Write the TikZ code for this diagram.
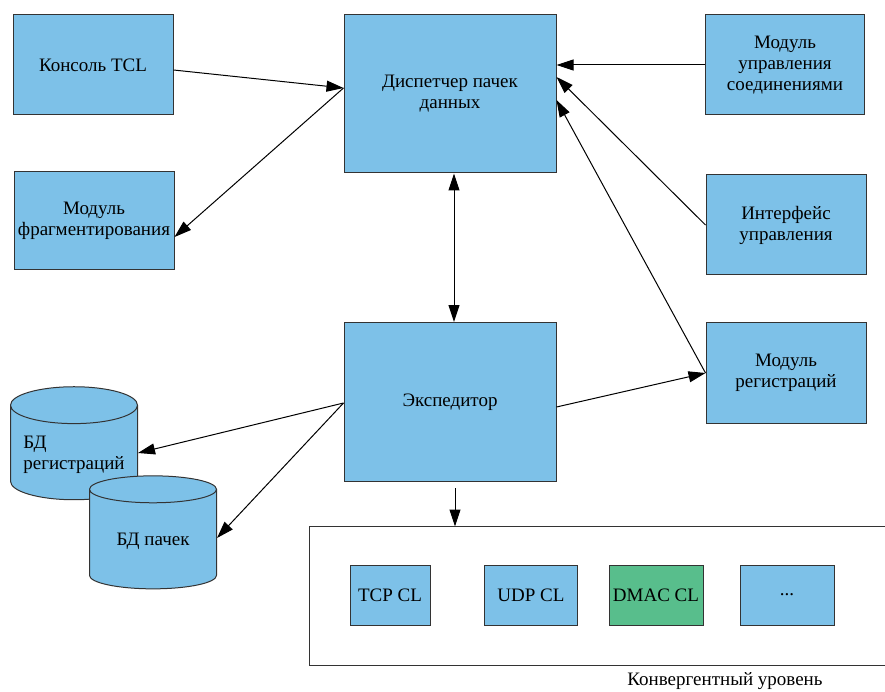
\documentclass[tikz,border=0pt]{standalone}
\usepackage{fontspec}
\setmainfont{Liberation Serif}
\usetikzlibrary{shapes.geometric, arrows.meta, positioning}
\definecolor{boxblue}{RGB}{125,193,232}
\definecolor{boxgreen}{RGB}{88,190,140}

\begin{document}
\begin{tikzpicture}[x=1pt, y=-1pt, font=\fontsize{19}{21}\selectfont, >={Triangle[length=17pt,width=11pt]}, line width=1pt]
    \tikzstyle{block}=[rectangle, draw=black!80, fill=boxblue, align=center, inner sep=2pt, minimum width=160pt, minimum height=100pt]
    \tikzstyle{big}=[block, minimum width=212pt, minimum height=158pt]
    \tikzstyle{cl}=[block, minimum width=93pt, minimum height=60pt]
    \tikzstyle{db}=[cylinder, shape border rotate=90, draw=black!80, fill=boxblue, shape aspect=0.35, align=left, minimum width=127pt, minimum height=113pt, inner sep=2pt]
    \useasboundingbox (0,0) rectangle (885,692);
    % upper row
    \node[block] (tcl) at (93,65) {Консоль TCL};
    \node[block, minimum height=98pt] (frag) at (94,221) {Модуль\\фрагментирования};
    \node[big] (disp) at (450,94) {Диспетчер пачек\\данных};
    \node[block, minimum width=159pt] (conn) at (785,65) {Модуль\\управления\\соединениями};
    \node[block] (iface) at (786,225) {Интерфейс\\управления};
    % lower row
    \node[big, minimum height=159pt] (exped) at (450,402) {Экспедитор};
    \node[block, minimum height=101pt] (reg) at (786,373) {Модуль\\регистраций};
    \node[db] (dbreg) at (74,455) {БД\\регистраций};
    \node[db] (dbpack) at (153,541) {БД пачек};
    % convergence layer
    \node[minimum width=575pt, minimum height=138pt, inner sep=0pt] (conv) at (597.5,596) {};
    \draw[black!80] (conv.north east) -- (conv.north west) -- (conv.south west) -- (conv.south east);
    \node[cl, minimum width=80pt] (tcp) at (390,595) {TCP CL};
    \node[cl] (udp) at (531,595) {UDP CL};
    \node[cl, fill=boxgreen, minimum width=94pt] (dmac) at (656,595) {DMAC CL};
    \node[cl, minimum width=94pt] (more) at (787,595) {...};
    \node (convlbl) at (725,681) {Конвергентный уровень};
    % connectors
    \draw[->] ([yshift=-5pt]tcl.east) -- ([yshift=6pt]disp.west);
    \draw[->] ([yshift=6pt]disp.west) -- ([yshift=-16pt]frag.east);
    \draw[->] (conn.west) -- (conn.west -| disp.east);
    \draw[->] (iface.west) -- ([yshift=17pt]disp.east);
    \draw[->] (reg.west) -- ([yshift=-6pt]disp.east);
    \draw[->] ([yshift=-5pt]exped.east) -- (reg.west);
    \draw[<->] ([xshift=4pt]disp.south) -- ([xshift=4pt]exped.north);
    \draw[->] ([yshift=-1pt]exped.west) -- ([yshift=2pt]dbreg.east);
    \draw[->] ([yshift=-1pt]exped.west) -- ([yshift=3pt]dbpack.east);
    \draw[->, shorten <=6pt] ([xshift=5pt]exped.south) -- ([xshift=5pt]exped.south |- conv.north);
\end{tikzpicture}
\end{document}
